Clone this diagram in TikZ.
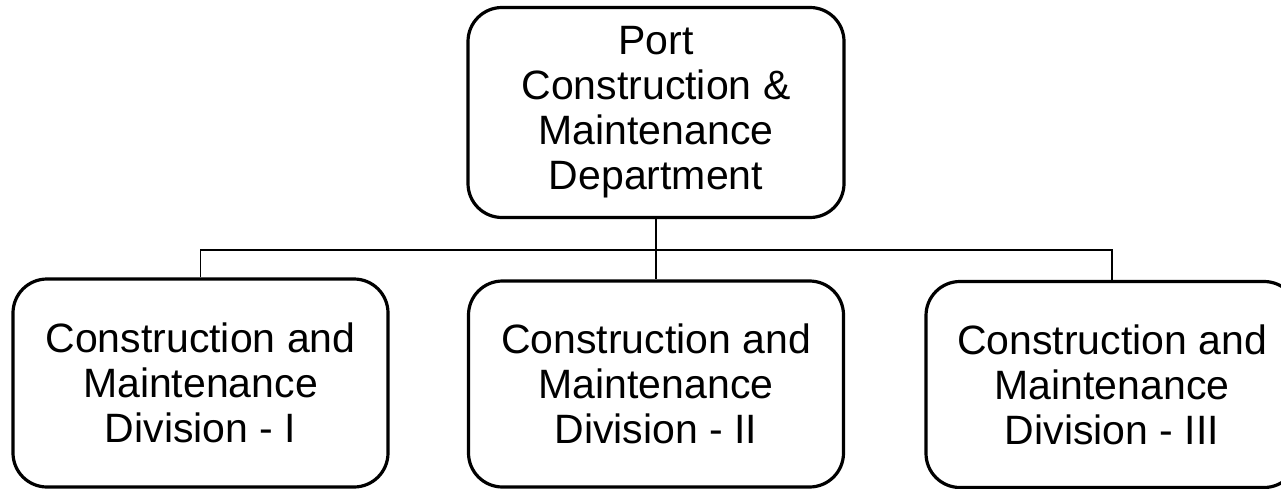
\documentclass[tikz,border=0pt]{standalone}
\usepackage{fontspec}
\setmainfont{Liberation Sans}
\begin{document}
\begin{tikzpicture}[x=1pt,y=-1pt,
  unit/.style={draw=black, line width=3.2pt, rounded corners=34pt, fill=white,
    inner sep=0pt, align=center, font=\fontsize{41}{45}\selectfont},
  conn/.style={draw=black, line width=1.6pt}]
  \useasboundingbox (0,0) rectangle (1281,489);
  % head department
  \node[unit, minimum width=376pt, minimum height=210pt] (top) at (656,112.5)
    {Port\\Construction \&\\Maintenance\\Department};
  % divisions
  \node[unit, minimum width=375pt, minimum height=208pt] (d1) at (200.5,383)
    {Construction and\\Maintenance\\Division - I};
  \node[unit, minimum width=375pt, minimum height=206pt] (d2) at (656,384)
    {Construction and\\Maintenance\\Division - II};
  \node[unit, minimum width=372pt, minimum height=206pt] (d3) at (1112,384.5)
    {Construction and\\Maintenance\\Division - III};
  % connectors
  \coordinate (bus) at (656,250);
  \draw[conn] (top.south) -- (bus);
  \draw[conn] (d1.north) |- (bus) -| (d3.north);
  \draw[conn] (bus) -- (d2.north);
\end{tikzpicture}
\end{document}
